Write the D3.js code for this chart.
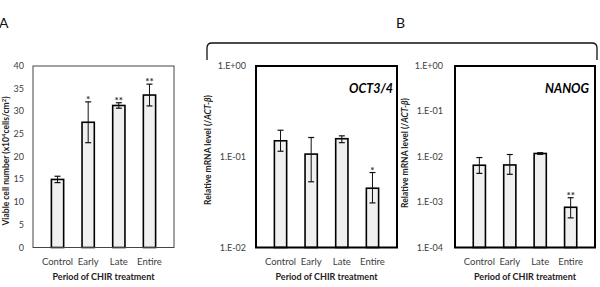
<!DOCTYPE html>
<html>
<head>
<meta charset="utf-8">
<script src="https://cdn.jsdelivr.net/npm/d3@7"></script>
<style>
  body { margin: 0; background: #fff; }
  text { font-family: Lato, "Open Sans", sans-serif; }
</style>
</head>
<body>
<svg id="chart" width="600" height="287"></svg>
<script>
// data
var categories = ["Control", "Early", "Late", "Entire"];

// A: viable cell number (x10^4 cells/cm2)
var cellMean = [15.0, 27.6, 31.3, 33.6];
var cellErr = [0.7, 4.5, 0.6, 2.4];
var cellSig = ["", "*", "**", "**"];
var cellTicks = [0, 5, 10, 15, 20, 25, 30, 35, 40];

// B: OCT3/4 relative mRNA level
var octMean = [0.150, 0.107, 0.158, 0.045];
var octLo = [0.115, 0.053, 0.143, 0.031];
var octHi = [0.196, 0.163, 0.170, 0.067];
var octSig = ["", "", "", "*"];
var octTicks = [1, 0.1, 0.01];
var octTickLabels = ["1.E+00", "1.E-01", "1.E-02"];

// B: NANOG relative mRNA level
var nanogMean = [0.0065, 0.0066, 0.0118, 0.00077];
var nanogLo = [0.0043, 0.0041, 0.0113, 0.00045];
var nanogHi = [0.0096, 0.0112, 0.0123, 0.00125];
var nanogSig = ["", "", "", "**"];
var nanogTicks = [1, 0.1, 0.01, 0.001, 0.0001];
var nanogTickLabels = ["1.E+00", "1.E-01", "1.E-02", "1.E-03", "1.E-04"];

var svg = d3.select("#chart");
var top_y = 66, bottom_y = 247.5;

// draws one bar panel; y is a ready made scale
function draw_panel (opts) {
  var g = svg.append("g");
  var x = d3.scaleBand().domain(categories)
            .range([opts.left, opts.right]).padding(0.6);
  var y = opts.y;
  var rows = categories.map(function (c, i) {
    return { cat: c, v: opts.mean[i], lo: opts.lo[i], hi: opts.hi[i], sig: opts.sig[i] };
  });

  // bars
  g.selectAll("rect.bar").data(rows).enter().append("rect")
   .attr("class", "bar")
   .attr("x", function (d) { return x(d.cat); })
   .attr("y", function (d) { return y(d.v); })
   .attr("width", x.bandwidth())
   .attr("height", function (d) { return bottom_y - y(d.v); })
   .attr("fill", "#f0f0f0")
   .attr("stroke", "#000")
   .attr("stroke-width", 1.6);

  // error bars
  var eb = g.selectAll("g.err").data(rows).enter().append("g")
            .attr("transform", function (d) { return "translate(" + (x(d.cat) + x.bandwidth() / 2) + ",0)"; });
  eb.append("line")
    .attr("y1", function (d) { return y(d.lo); })
    .attr("y2", function (d) { return y(d.hi); })
    .attr("stroke", "#111").attr("stroke-width", 1);
  eb.append("line").attr("x1", -3).attr("x2", 3)
    .attr("y1", function (d) { return y(d.lo); })
    .attr("y2", function (d) { return y(d.lo); })
    .attr("stroke", "#111").attr("stroke-width", 1.2);
  eb.append("line").attr("x1", -3).attr("x2", 3)
    .attr("y1", function (d) { return y(d.hi); })
    .attr("y2", function (d) { return y(d.hi); })
    .attr("stroke", "#111").attr("stroke-width", 1.2);
  eb.append("text")
    .attr("y", function (d) { return y(d.hi) + 1; })
    .attr("text-anchor", "middle")
    .attr("font-size", 10)
    .attr("font-weight", "bold")
    .attr("fill", "#333")
    .text(function (d) { return d.sig; });

  // frame
  g.append("rect")
   .attr("x", opts.left).attr("y", top_y)
   .attr("width", opts.right - opts.left).attr("height", bottom_y - top_y)
   .attr("fill", "none")
   .attr("stroke", opts.frameCol)
   .attr("stroke-width", opts.frameW);

  // y tick labels
  g.selectAll("text.ytick").data(opts.ticks).enter().append("text")
   .attr("class", "ytick")
   .attr("x", opts.left - opts.tickGap)
   .attr("y", function (d) { return y(d) + 3; })
   .attr("text-anchor", "end")
   .attr("font-size", 9)
   .attr("fill", "#404040")
   .text(function (d, i) { return opts.tickLabels ? opts.tickLabels[i] : d; });

  // category labels
  g.selectAll("text.xtick").data(categories).enter().append("text")
   .attr("x", function (d) { return x(d) + x.bandwidth() / 2; })
   .attr("y", 265)
   .attr("text-anchor", "middle")
   .attr("font-size", 9.5)
   .attr("fill", "#404040")
   .text(function (d) { return d; });

  g.append("text")
   .attr("x", (opts.left + opts.right) / 2)
   .attr("y", 280)
   .attr("text-anchor", "middle")
   .attr("font-size", 9)
   .attr("font-weight", "bold")
   .attr("fill", "#222")
   .text("Period of CHIR treatment");

  return g;
}

// panel A
var yA = d3.scaleLinear().domain([0, 40]).range([bottom_y, top_y]);
draw_panel({ left: 33, right: 174, y: yA, mean: cellMean,
  lo: cellMean.map(function (v, i) { return v - cellErr[i]; }),
  hi: cellMean.map(function (v, i) { return v + cellErr[i]; }),
  sig: cellSig, ticks: cellTicks, tickGap: 9, frameCol: "#444", frameW: 1 });

var titleA = svg.append("text")
  .attr("transform", "translate(9,161) rotate(-90)")
  .attr("text-anchor", "middle")
  .attr("font-size", 8.5)
  .attr("font-weight", "bold")
  .attr("fill", "#222");
titleA.append("tspan").text("Viable cell number (x10");
titleA.append("tspan").attr("font-size", 6).attr("dy", -3).text("4");
titleA.append("tspan").attr("dy", 3).text("cells/cm");
titleA.append("tspan").attr("font-size", 6).attr("dy", -3).text("2");
titleA.append("tspan").attr("dy", 3).text(")");

// panel B, OCT3/4
var yB1 = d3.scaleLog().domain([0.01, 1]).range([bottom_y, top_y]);
draw_panel({ left: 256, right: 397, y: yB1, mean: octMean, lo: octLo, hi: octHi,
  sig: octSig, ticks: octTicks, tickLabels: octTickLabels, tickGap: 10,
  frameCol: "#000", frameW: 2 });

// panel B, NANOG
var yB2 = d3.scaleLog().domain([0.0001, 1]).range([bottom_y, top_y]);
draw_panel({ left: 455, right: 595, y: yB2, mean: nanogMean, lo: nanogLo, hi: nanogHi,
  sig: nanogSig, ticks: nanogTicks, tickLabels: nanogTickLabels, tickGap: 12,
  frameCol: "#000", frameW: 2 });

// gene names
[["OCT3/4", 393], ["NANOG", 589]].forEach(function (d) {
  svg.append("text")
     .attr("x", d[1]).attr("y", 93)
     .attr("text-anchor", "end")
     .attr("font-size", 12.5)
     .attr("font-weight", "bold")
     .attr("font-style", "italic")
     .text(d[0]);
});

// y titles for B
[[211, 150], [408, 153]].forEach(function (p) {
  var t = svg.append("text")
    .attr("transform", "translate(" + p[0] + "," + p[1] + ") rotate(-90)")
    .attr("text-anchor", "middle")
    .attr("font-size", 8.5)
    .attr("font-weight", "bold")
    .attr("fill", "#222");
  t.append("tspan").text("Relative mRNA level (/");
  t.append("tspan").attr("font-style", "italic").text("ACT-β");
  t.append("tspan").text(")");
});

// panel letters
svg.append("text").attr("x", -1).attr("y", 28).attr("font-size", 14).attr("fill", "#111").text("A");
svg.append("text").attr("x", 396).attr("y", 28).attr("font-size", 14).attr("fill", "#111").text("B");

// bracket over panel B
svg.append("path")
   .attr("d", "M207,60 L207,48 Q207,43 212,43 L592,43 Q597,43 597,48 L597,60")
   .attr("fill", "none")
   .attr("stroke", "#111")
   .attr("stroke-width", 1.3);
</script>
</body>
</html>
